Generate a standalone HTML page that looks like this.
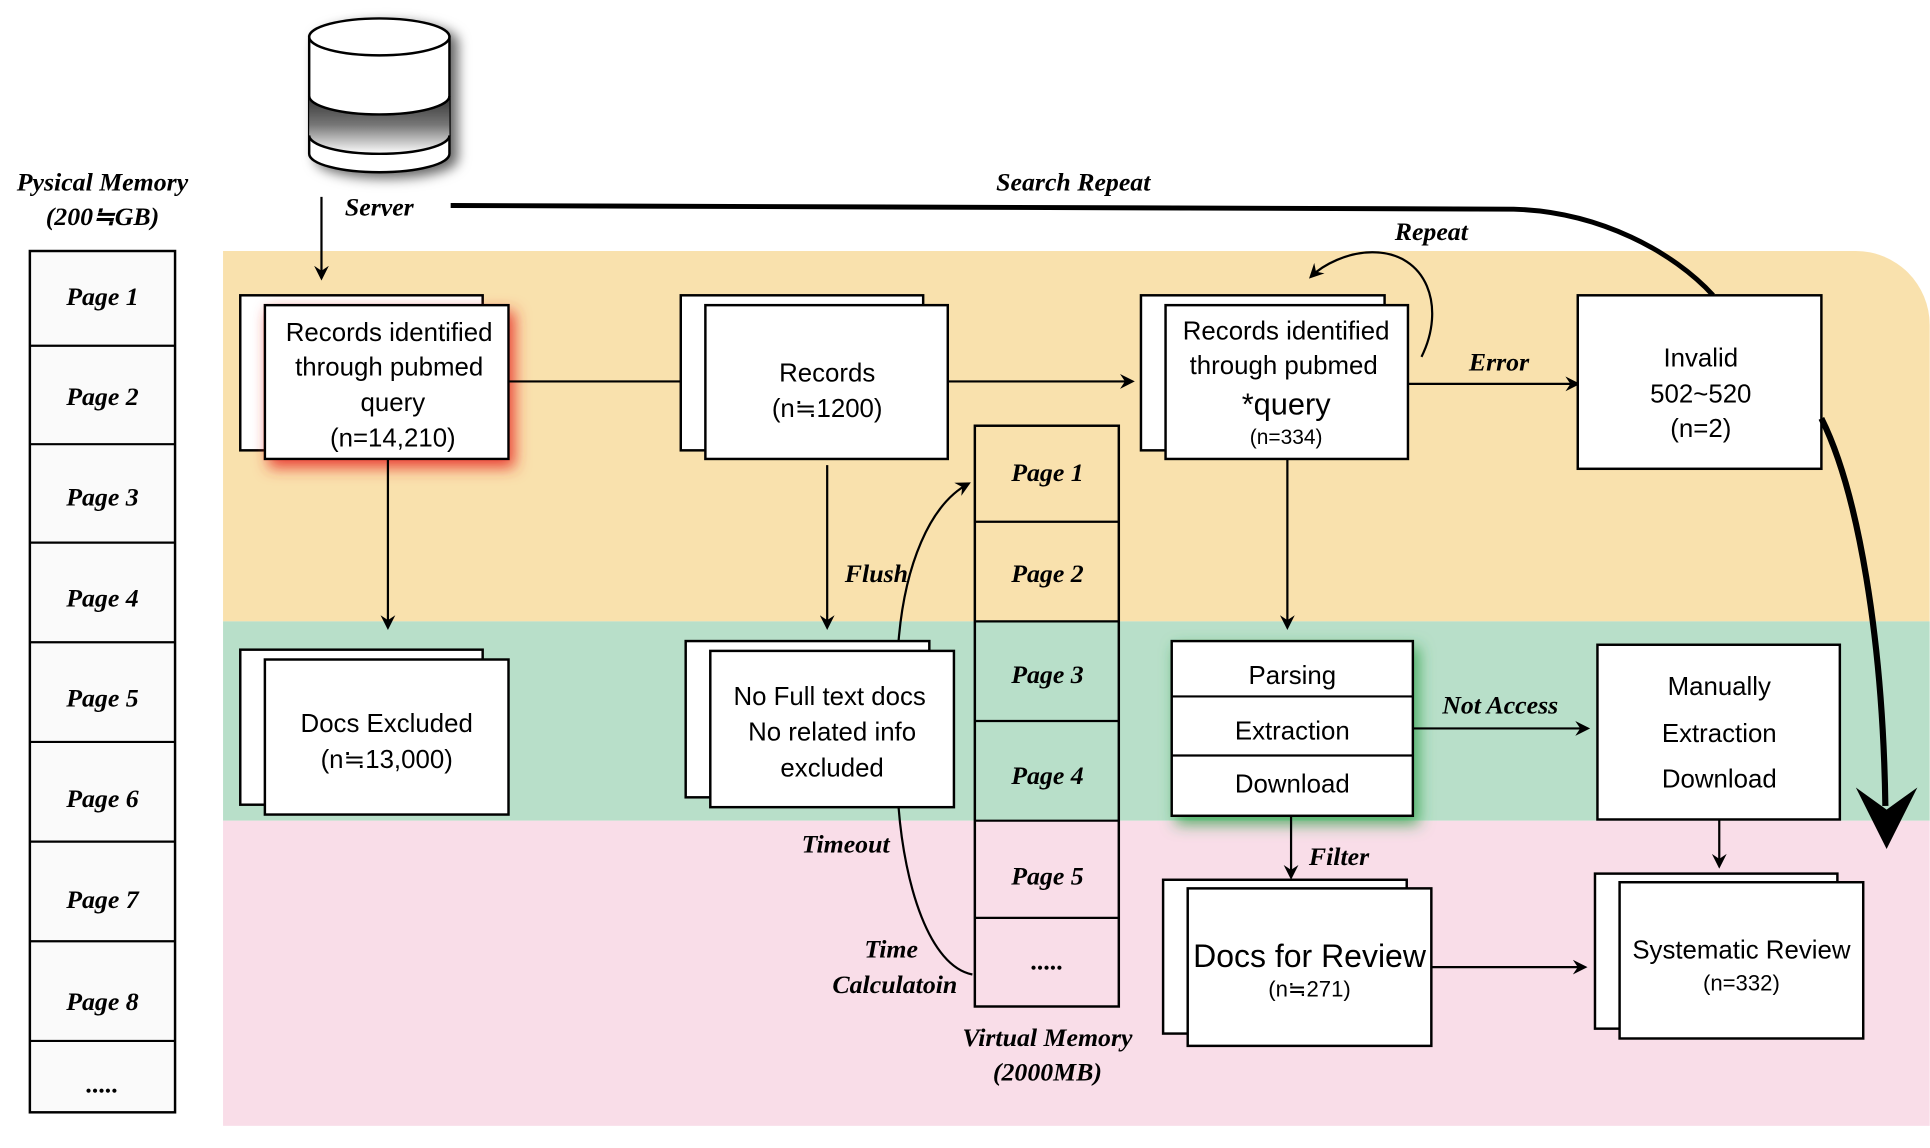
<!DOCTYPE html>
<html><head><meta charset="utf-8"><style>
html,body{margin:0;padding:0;background:#fff;}
svg{display:block;}
.b{font-family:"Liberation Sans","Noto Sans CJK JP",sans-serif;font-size:21px;fill:#000;text-anchor:middle;}
.l{font-family:"Liberation Serif","Noto Serif CJK SC",serif;font-style:italic;font-weight:bold;font-size:21px;fill:#000;text-anchor:middle;}
.bx{fill:#fff;stroke:#000;stroke-width:2;}
.ln{stroke:#000;stroke-width:1.8;fill:none;}
</style></head><body>
<svg width="1930" height="1148" viewBox="0 0 1568 933" xmlns="http://www.w3.org/2000/svg">
<defs>
<marker id="a" markerWidth="12" markerHeight="12" refX="10" refY="6" orient="auto" markerUnits="userSpaceOnUse"><path d="M0,0 L12,6 L0,12 L4,6 z" fill="#000"/></marker>
<filter id="rg" x="-30%" y="-30%" width="160%" height="160%"><feDropShadow dx="4" dy="6" stdDeviation="6" flood-color="#e8332a" flood-opacity="0.9"/></filter>
<filter id="gg" x="-30%" y="-30%" width="160%" height="160%"><feDropShadow dx="4" dy="6" stdDeviation="6" flood-color="#2da34a" flood-opacity="0.8"/></filter>
<filter id="sh" x="-30%" y="-30%" width="160%" height="160%"><feDropShadow dx="6" dy="4" stdDeviation="5" flood-color="#000" flood-opacity="0.6"/></filter>
<linearGradient id="cg" x1="0" y1="0" x2="0" y2="1"><stop offset="0" stop-color="#333"/><stop offset="0.5" stop-color="#777"/><stop offset="1" stop-color="#fff"/></linearGradient>
</defs>
<!-- backgrounds -->
<path d="M181,204 H1508 A60,60 0 0 1 1568,264 V505 H181 Z" fill="#f9e1ad"/>
<rect x="181" y="505" width="1387" height="162" fill="#b8dfc9"/>
<rect x="181" y="667" width="1387" height="248" fill="#f9dde8"/>

<!-- physical memory -->
<text class="l" x="83" y="155">Pysical Memory</text>
<text class="l" x="83" y="183">(200≒GB)</text>
<rect x="24" y="204" width="118" height="700" fill="#fafafa" stroke="#000" stroke-width="2"/>
<g class="ln">
<line x1="24" y1="281" x2="142" y2="281"/><line x1="24" y1="361" x2="142" y2="361"/><line x1="24" y1="441" x2="142" y2="441"/><line x1="24" y1="522" x2="142" y2="522"/><line x1="24" y1="603" x2="142" y2="603"/><line x1="24" y1="684" x2="142" y2="684"/><line x1="24" y1="765" x2="142" y2="765"/><line x1="24" y1="846" x2="142" y2="846"/>
</g>
<text class="l" x="83" y="248">Page 1</text><text class="l" x="83" y="329">Page 2</text><text class="l" x="83" y="411">Page 3</text><text class="l" x="83" y="493">Page 4</text><text class="l" x="83" y="574">Page 5</text><text class="l" x="83" y="656">Page 6</text><text class="l" x="83" y="738">Page 7</text><text class="l" x="83" y="821">Page 8</text><text class="l" x="83" y="888">.....</text>

<!-- server cylinder -->
<g filter="url(#sh)">
<path d="M251,30 V125 A57,15 0 0 0 365,125 V30 Z" fill="#fff" stroke="#000" stroke-width="2"/>
<path d="M251,78 A57,15 0 0 0 365,78 V110 A57,15 0 0 1 251,110 Z" fill="url(#cg)"/>
<path d="M251,78 A57,15 0 0 0 365,78 M251,110 A57,15 0 0 0 365,110" fill="none" stroke="#000" stroke-width="2"/>
<ellipse cx="308" cy="30" rx="57" ry="15" fill="#fff" stroke="#000" stroke-width="2"/>
</g>
<text class="l" x="308" y="175">Server</text>
<line class="ln" x1="261" y1="160" x2="261" y2="226" marker-end="url(#a)"/>
<text class="l" x="872" y="155">Search Repeat</text>
<path d="M366,167 L1230,170 C1300,172 1360,205 1392,240" fill="none" stroke="#000" stroke-width="4"/>

<!-- box1 -->
<rect class="bx" x="195" y="240" width="197" height="126"/>
<rect class="bx" x="215" y="248" width="198" height="125" filter="url(#rg)"/>
<text class="b" x="316" y="277">Records identified</text><text class="b" x="316" y="305">through pubmed</text><text class="b" x="319" y="334">query</text><text class="b" x="319" y="363">(n=14,210)</text>
<line class="ln" x1="413" y1="310" x2="553" y2="310"/>
<!-- records -->
<rect class="bx" x="553" y="240" width="197" height="126"/>
<rect class="bx" x="573" y="248" width="197" height="125"/>
<text class="b" x="672" y="310">Records</text><text class="b" x="672" y="339">(n≒1200)</text>
<line class="ln" x1="770" y1="310" x2="920" y2="310" marker-end="url(#a)"/>
<!-- box3 -->
<rect class="bx" x="927" y="240" width="198" height="126"/>
<rect class="bx" x="947" y="248" width="197" height="125"/>
<text class="b" x="1045" y="276">Records identified</text><text class="b" x="1043" y="304">through pubmed</text><text class="b" x="1045" y="337" style="font-size:25px">*query</text><text class="b" x="1045" y="361" style="font-size:17px">(n=334)</text>
<path class="ln" d="M1155,290 C1175,250 1160,205 1115,205 C1095,205 1075,215 1065,225" marker-end="url(#a)"/>
<text class="l" x="1163" y="195">Repeat</text>
<line class="ln" x1="1144" y1="312" x2="1282" y2="312" marker-end="url(#a)"/>
<text class="l" x="1218" y="301">Error</text>
<rect class="bx" x="1282" y="240" width="198" height="141"/>
<text class="b" x="1382" y="298">Invalid</text><text class="b" x="1382" y="327">502~520</text><text class="b" x="1382" y="355">(n=2)</text>
<path d="M1480,340 C1510,400 1530,520 1532,655" fill="none" stroke="#000" stroke-width="5"/>
<path d="M1508,640 L1533,658 L1558,640 L1533,690 Z" fill="#000"/>

<!-- row 2 -->
<line class="ln" x1="315" y1="373" x2="315" y2="510" marker-end="url(#a)"/>
<rect class="bx" x="195" y="528" width="197" height="126"/>
<rect class="bx" x="215" y="536" width="198" height="126"/>
<text class="b" x="314" y="595">Docs Excluded</text><text class="b" x="314" y="624">(n≒13,000)</text>
<line class="ln" x1="672" y1="378" x2="672" y2="510" marker-end="url(#a)"/>
<text class="l" x="712" y="473">Flush</text>
<rect class="bx" x="557" y="521" width="198" height="127"/>
<rect class="bx" x="577" y="529" width="198" height="127"/>
<text class="b" x="674" y="573">No Full text docs</text><text class="b" x="676" y="602">No related info</text><text class="b" x="676" y="631">excluded</text>

<!-- virtual memory -->
<rect x="792" y="346" width="117" height="472" fill="none" stroke="#000" stroke-width="2"/>
<g class="ln"><line x1="792" y1="424" x2="909" y2="424"/><line x1="792" y1="505" x2="909" y2="505"/><line x1="792" y1="586" x2="909" y2="586"/><line x1="792" y1="667" x2="909" y2="667"/><line x1="792" y1="746" x2="909" y2="746"/></g>
<text class="l" x="851" y="391">Page 1</text><text class="l" x="851" y="473">Page 2</text><text class="l" x="851" y="555">Page 3</text><text class="l" x="851" y="637">Page 4</text><text class="l" x="851" y="719">Page 5</text><text class="l" x="851" y="788">.....</text>
<text class="l" x="851" y="850">Virtual Memory</text><text class="l" x="851" y="878">(2000MB)</text>
<path class="ln" d="M730,521 C735,460 755,410 787,393" marker-end="url(#a)"/>
<path class="ln" d="M730,656 C735,720 755,785 790,792"/>
<text class="l" x="687" y="693">Timeout</text>
<text class="l" x="724" y="778">Time</text><text class="l" x="727" y="807">Calculatoin</text>

<line class="ln" x1="1046" y1="373" x2="1046" y2="510" marker-end="url(#a)"/>
<g filter="url(#gg)"><rect class="bx" x="952" y="521" width="196" height="142"/></g>
<g class="ln"><line x1="952" y1="566" x2="1148" y2="566"/><line x1="952" y1="614" x2="1148" y2="614"/></g>
<text class="b" x="1050" y="556">Parsing</text><text class="b" x="1050" y="601">Extraction</text><text class="b" x="1050" y="644">Download</text>
<line class="ln" x1="1148" y1="592" x2="1290" y2="592" marker-end="url(#a)"/>
<text class="l" x="1219" y="580">Not Access</text>
<rect class="bx" x="1298" y="524" width="197" height="142"/>
<text class="b" x="1397" y="565">Manually</text><text class="b" x="1397" y="603">Extraction</text><text class="b" x="1397" y="640">Download</text>

<!-- row 3 -->
<line class="ln" x1="1049" y1="663" x2="1049" y2="713" marker-end="url(#a)"/>
<text class="l" x="1088" y="703">Filter</text>
<rect class="bx" x="945" y="715" width="198" height="125"/>
<rect class="bx" x="965" y="722" width="198" height="128"/>
<text class="b" x="1064" y="786" style="font-size:26px">Docs for Review</text><text class="b" x="1064" y="810" style="font-size:18px">(n≒271)</text>
<line class="ln" x1="1163" y1="786" x2="1288" y2="786" marker-end="url(#a)"/>
<line class="ln" x1="1397" y1="666" x2="1397" y2="704" marker-end="url(#a)"/>
<rect class="bx" x="1296" y="710" width="197" height="126"/>
<rect class="bx" x="1316" y="717" width="198" height="127"/>
<text class="b" x="1415" y="779">Systematic Review</text><text class="b" x="1415" y="805" style="font-size:18px">(n=332)</text>
</svg>
</body></html>
